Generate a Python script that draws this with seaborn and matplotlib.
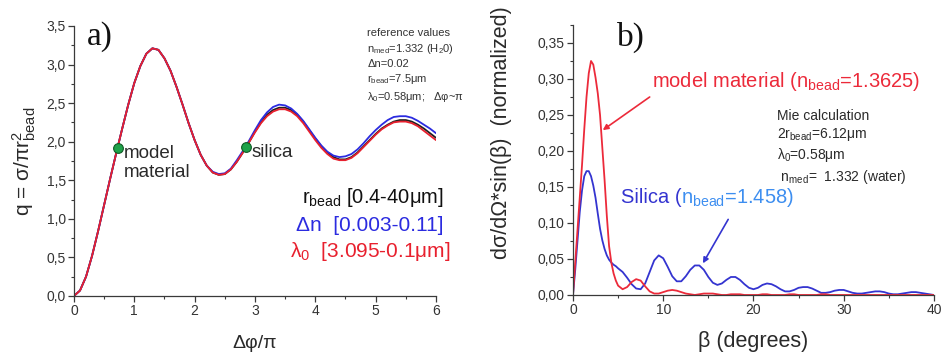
import matplotlib
matplotlib.use("Agg")
import matplotlib.pyplot as plt
import pandas as pd
import seaborn as sns
from matplotlib.ticker import FixedLocator, MultipleLocator

# ---------------- panel a: efficiency q versus phase shift ----------------
phase = [0.0, 0.1, 0.2, 0.3, 0.4, 0.5, 0.6, 0.7, 0.8, 0.9,
         1.0, 1.1, 1.2, 1.3, 1.4, 1.5, 1.6, 1.7, 1.8, 1.9,
         2.0, 2.1, 2.2, 2.3, 2.4, 2.5, 2.6, 2.7, 2.8, 2.9,
         3.0, 3.1, 3.2, 3.3, 3.4, 3.5, 3.6, 3.7, 3.8, 3.9,
         4.0, 4.1, 4.2, 4.3, 4.4, 4.5, 4.6, 4.7, 4.8, 4.9,
         5.0, 5.1, 5.2, 5.3, 5.4, 5.5, 5.6, 5.7, 5.8, 5.9, 6.0]

q_rbead = [0.00, 0.07, 0.25, 0.52, 0.84, 1.18, 1.52, 1.85, 2.17, 2.48,
           2.76, 2.98, 3.14, 3.21, 3.19, 3.08, 2.92, 2.71, 2.48, 2.24,
           2.02, 1.83, 1.69, 1.60, 1.57, 1.58, 1.64, 1.74, 1.86, 1.99,
           2.13, 2.25, 2.35, 2.41, 2.44, 2.44, 2.41, 2.35, 2.26, 2.15,
           2.04, 1.94, 1.86, 1.80, 1.77, 1.77, 1.80, 1.86, 1.94, 2.02,
           2.10, 2.17, 2.22, 2.26, 2.28, 2.28, 2.26, 2.22, 2.17, 2.11, 2.05]

q_dn = [0.00, 0.07, 0.25, 0.52, 0.84, 1.18, 1.52, 1.85, 2.17, 2.48,
        2.76, 2.98, 3.14, 3.21, 3.19, 3.08, 2.92, 2.71, 2.48, 2.24,
        2.02, 1.83, 1.69, 1.61, 1.58, 1.59, 1.65, 1.76, 1.88, 2.01,
        2.15, 2.28, 2.38, 2.45, 2.48, 2.47, 2.43, 2.36, 2.27, 2.16,
        2.05, 1.95, 1.87, 1.82, 1.80, 1.81, 1.84, 1.90, 1.98, 2.07,
        2.15, 2.22, 2.28, 2.32, 2.33, 2.33, 2.31, 2.27, 2.22, 2.17, 2.11]

q_lambda = [0.00, 0.07, 0.25, 0.52, 0.84, 1.18, 1.52, 1.85, 2.17, 2.48,
            2.76, 2.98, 3.14, 3.21, 3.19, 3.08, 2.92, 2.71, 2.48, 2.24,
            2.02, 1.83, 1.69, 1.60, 1.57, 1.58, 1.64, 1.74, 1.86, 1.99,
            2.12, 2.24, 2.33, 2.39, 2.42, 2.42, 2.39, 2.33, 2.24, 2.13,
            2.02, 1.92, 1.84, 1.78, 1.76, 1.76, 1.79, 1.85, 1.93, 2.01,
            2.09, 2.16, 2.21, 2.25, 2.26, 2.26, 2.24, 2.20, 2.14, 2.08, 2.02]

marker_names = ["model\nmaterial", "silica"]
marker_phase = [0.73, 2.85]
marker_q = [1.92, 1.93]

a_yticks = [0.0, 0.5, 1.0, 1.5, 2.0, 2.5, 3.0, 3.5]
a_ytick_labels = ["0,0", "0,5", "1,0", "1,5", "2,0", "2,5", "3,0", "3,5"]
a_xticks = [0, 1, 2, 3, 4, 5, 6]
a_xtick_labels = ["0", "1", "2", "3", "4", "5", "6"]

# ---------------- panel b: angular scattering distribution ----------------
beta = [0.0, 0.25, 0.5, 0.75, 1.0, 1.25, 1.5, 1.75, 2.0, 2.25,
        2.5, 2.75, 3.0, 3.25, 3.5, 3.75, 4.0, 4.25, 4.5, 4.75, 5.0,
        5.5, 6.0, 6.5, 7.0, 7.5, 8.0, 8.5, 9.0, 9.5, 10.0,
        10.5, 11.0, 11.5, 12.0, 12.5, 13.0, 13.5, 14.0, 14.5, 15.0,
        15.5, 16.0, 16.5, 17.0, 17.5, 18.0, 18.5, 19.0, 19.5, 20.0,
        20.5, 21.0, 21.5, 22.0, 22.5, 23.0, 23.5, 24.0, 24.5, 25.0,
        25.5, 26.0, 26.5, 27.0, 27.5, 28.0, 28.5, 29.0, 29.5, 30.0,
        30.5, 31.0, 31.5, 32.0, 32.5, 33.0, 33.5, 34.0, 34.5, 35.0,
        35.5, 36.0, 36.5, 37.0, 37.5, 38.0, 38.5, 39.0, 39.5, 40.0]

scatter_model = [0.000, 0.045, 0.090, 0.135, 0.180, 0.230, 0.275, 0.308, 0.325, 0.320,
                 0.302, 0.280, 0.250, 0.205, 0.160, 0.110, 0.068, 0.045, 0.030, 0.020, 0.013,
                 0.008, 0.011, 0.018, 0.022, 0.020, 0.012, 0.005, 0.002, 0.002, 0.004,
                 0.006, 0.007, 0.006, 0.004, 0.002, 0.001, 0.000, 0.001, 0.002, 0.002,
                 0.002, 0.001, 0.000, 0.000, 0.001, 0.001, 0.001, 0.000, 0.000, 0.000,
                 0.000, 0.001, 0.001, 0.000, 0.000, 0.000, 0.000, 0.001, 0.001, 0.000,
                 0.000, 0.000, 0.000, 0.000, 0.001, 0.001, 0.000, 0.000, 0.000, 0.000,
                 0.000, 0.000, 0.000, 0.000, 0.000, 0.000, 0.000, 0.000, 0.000, 0.000,
                 0.000, 0.000, 0.000, 0.000, 0.000, 0.000, 0.000, 0.000, 0.000, 0.000]

scatter_silica = [0.000, 0.035, 0.075, 0.115, 0.145, 0.165, 0.172, 0.172, 0.165, 0.152,
                  0.135, 0.113, 0.092, 0.076, 0.064, 0.055, 0.049, 0.045, 0.042, 0.040, 0.037,
                  0.032, 0.024, 0.015, 0.009, 0.008, 0.016, 0.032, 0.048, 0.055, 0.051,
                  0.039, 0.026, 0.019, 0.019, 0.026, 0.035, 0.041, 0.041, 0.035, 0.025,
                  0.017, 0.014, 0.016, 0.021, 0.025, 0.025, 0.021, 0.015, 0.010, 0.008,
                  0.010, 0.014, 0.016, 0.015, 0.012, 0.008, 0.005, 0.005, 0.007, 0.010,
                  0.011, 0.011, 0.009, 0.006, 0.003, 0.003, 0.004, 0.006, 0.007, 0.007,
                  0.005, 0.003, 0.002, 0.002, 0.003, 0.004, 0.005, 0.005, 0.004, 0.002,
                  0.001, 0.001, 0.002, 0.003, 0.004, 0.004, 0.003, 0.002, 0.001, 0.000]

b_yticks = [0.00, 0.05, 0.10, 0.15, 0.20, 0.25, 0.30, 0.35]
b_ytick_labels = ["0,00", "0,05", "0,10", "0,15", "0,20", "0,25", "0,30", "0,35"]
b_xticks = [0, 10, 20, 30, 40]
b_xtick_labels = ["0", "10", "20", "30", "40"]

RED = "#e8202e"
BLUE = "#2b2be0"
BLACK = "#202020"
B_RED = "#ec2a3a"
B_BLUE = "#3434d0"
LIGHT_BLUE = "#3d8ef0"
GREEN = "#1fa24a"
TEXT = "#2a2a2a"

sns.set_theme(style="ticks")
plt.rcParams["font.family"] = ["Liberation Sans", "DejaVu Sans"]
plt.rcParams["mathtext.default"] = "regular"

fig = plt.figure(figsize=(9.41, 3.54), dpi=100)
ax_a = fig.add_axes([0.0786, 0.164, 0.3847, 0.7627])
ax_b = fig.add_axes([0.6089, 0.1667, 0.3836, 0.7627])

curves_a = pd.DataFrame({"phase": phase, "r_bead": q_rbead,
                         "dn": q_dn, "lambda0": q_lambda})
sns.lineplot(data=curves_a, x="phase", y="r_bead", ax=ax_a, color=BLACK, lw=1.3)
sns.lineplot(data=curves_a, x="phase", y="dn", ax=ax_a, color=BLUE, lw=1.3)
sns.lineplot(data=curves_a, x="phase", y="lambda0", ax=ax_a, color=RED, lw=1.3)
ax_a.plot(marker_phase, marker_q, ls="none", marker="o", ms=7,
          mfc=GREEN, mec="#0f5a25", mew=0.8, zorder=5)

curves_b = pd.DataFrame({"beta": beta, "model": scatter_model,
                         "silica": scatter_silica})
sns.lineplot(data=curves_b, x="beta", y="silica", ax=ax_b, color=B_BLUE, lw=1.3)
sns.lineplot(data=curves_b, x="beta", y="model", ax=ax_b, color=B_RED, lw=1.3)

# ---------------- shared axis styling ----------------
for ax in (ax_a, ax_b):
    sns.despine(ax=ax)
    for side in ("left", "bottom"):
        ax.spines[side].set_color("#3a3a3a")
        ax.spines[side].set_linewidth(0.9)
    ax.tick_params(which="major", direction="out", length=4, width=0.9,
                   color="#3a3a3a", labelsize=10, labelcolor="#333333", pad=2)
    ax.tick_params(which="minor", direction="out", length=2.5, width=0.8,
                   color="#3a3a3a")

ax_a.set_xlim(0, 6)
ax_a.set_ylim(0, 3.5)
ax_a.yaxis.set_major_locator(FixedLocator(a_yticks))
ax_a.set_yticklabels(a_ytick_labels)
ax_a.xaxis.set_major_locator(FixedLocator(a_xticks))
ax_a.set_xticklabels(a_xtick_labels)
ax_a.xaxis.set_minor_locator(MultipleLocator(0.5))
ax_a.yaxis.set_minor_locator(MultipleLocator(0.25))
ax_a.set_xlabel("Δφ/π", fontsize=14, color=TEXT, labelpad=12)
ax_a.set_ylabel("q = σ/πr$^{2}_{bead}$", fontsize=15, color=TEXT, labelpad=6)

ax_b.set_xlim(0, 40)
ax_b.set_ylim(0, 0.375)
ax_b.yaxis.set_major_locator(FixedLocator(b_yticks))
ax_b.set_yticklabels(b_ytick_labels)
ax_b.xaxis.set_major_locator(FixedLocator(b_xticks))
ax_b.set_xticklabels(b_xtick_labels)
ax_b.xaxis.set_minor_locator(MultipleLocator(5))
ax_b.yaxis.set_minor_locator(MultipleLocator(0.025))
ax_b.set_xlabel("β (degrees)", fontsize=15.5, color=TEXT, labelpad=10)
ax_b.set_ylabel("dσ/dΩ*sin(β)  (normalized)", fontsize=15.5, color=TEXT)
ax_b.yaxis.set_label_coords(-0.168, 0.6)

# ---------------- panel a annotations ----------------
ax_a.text(0.22, 3.36, "a)", family=["Liberation Serif", "DejaVu Serif"],
          fontsize=24, va="center", ha="left", color="#111111")
for name, px, py in zip(marker_names, marker_phase, marker_q):
    ax_a.text(px + 0.09, py + 0.04, name, fontsize=13.5, color=TEXT,
              va="top", ha="left", linespacing=1.15)

ax_a.text(4.86, 3.47,
          "reference values\n"
          "n$_{med}$=1.332 (H$_{2}$0)\n"
          "Δn=0.02\n"
          "r$_{bead}$=7.5μm\n"
          "λ$_{0}$=0.58μm;   Δφ~π",
          fontsize=8, color="#333333", va="top", ha="left", linespacing=1.35)

ax_a.text(3.78, 1.27, "r$_{bead}$ [0.4-40μm]", fontsize=14.5, color="#111111",
          va="center", ha="left")
ax_a.text(3.68, 0.91, "Δn  [0.003-0.11]", fontsize=15, color=BLUE,
          va="center", ha="left")
ax_a.text(3.58, 0.58, "λ$_{0}$  [3.095-0.1μm]", fontsize=15, color=RED,
          va="center", ha="left")

# ---------------- panel b annotations ----------------
ax_b.text(4.9, 0.358, "b)", family=["Liberation Serif", "DejaVu Serif"],
          fontsize=24, va="center", ha="left", color="#111111")

ax_b.text(8.75, 0.296, "model material (n$_{bead}$=1.3625)", fontsize=14.5,
          color=B_RED, va="center", ha="left")
ax_b.annotate("", xy=(3.3, 0.229), xytext=(8.5, 0.275),
              arrowprops=dict(arrowstyle="-|>", color=B_RED, lw=1.2,
                              mutation_scale=8, shrinkA=0, shrinkB=0))

silica_head = ax_b.text(5.3, 0.136, "Silica (", fontsize=14.5, color=B_BLUE,
                        va="center", ha="left")
ax_b.annotate("n$_{bead}$=1.458)", xy=(1.0, 0.5), xycoords=silica_head,
              fontsize=14.5, color=LIGHT_BLUE, va="center", ha="left")
ax_b.annotate("", xy=(14.4, 0.044), xytext=(17.2, 0.105),
              arrowprops=dict(arrowstyle="-|>", color=B_BLUE, lw=1.2,
                              mutation_scale=8, shrinkA=0, shrinkB=0))

ax_b.text(22.6, 0.258,
          "Mie calculation\n"
          "2r$_{bead}$=6.12μm\n"
          "λ$_{0}$=0.58μm\n"
          " n$_{med}$=  1.332 (water)",
          fontsize=10, color=TEXT, va="top", ha="left", linespacing=1.25)

fig.savefig("out.png", dpi=100)
